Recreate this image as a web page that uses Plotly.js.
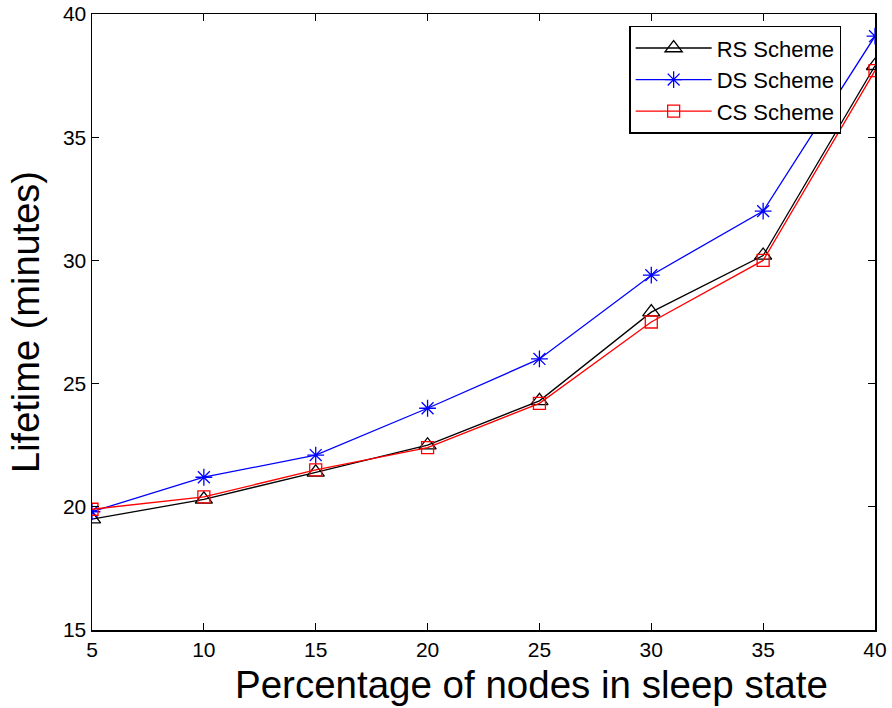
<!DOCTYPE html>
<html>
<head>
<meta charset="utf-8">
<script src="https://cdn.plot.ly/plotly-3.0.1.min.js"></script>
<style>html,body{margin:0;padding:0;background:#fff;}#chart{width:892px;height:708px;}</style>
</head>
<body>
<div id="chart"></div>
<script>
// Percentage of sleeping nodes and network lifetime for each scheme
const sleepPct = [5, 10, 15, 20, 25, 30, 35, 40];
const rsLifetime = [19.5, 20.3, 21.4, 22.5, 24.3, 27.9, 30.2, 37.9];
const dsLifetime = [19.8, 21.2, 22.1, 24.0, 26.0, 29.4, 32.0, 39.1];
const csLifetime = [19.9, 20.4, 21.5, 22.4, 24.2, 27.5, 30.0, 37.7];
const xTicks = [5, 10, 15, 20, 25, 30, 35, 40];
const yTicks = [15, 20, 25, 30, 35, 40];
const xTitle = 'Percentage of nodes in sleep state';
const yTitle = 'Lifetime (minutes)';

const font = 'Arial, "Liberation Sans", sans-serif';

const traces = [
  {x: sleepPct, y: rsLifetime, name: 'RS Scheme', mode: 'lines+markers',
   line: {color: '#000000', width: 1.3},
   marker: {symbol: 'triangle-up-open', size: 15, color: '#000000', line: {width: 1.3}}},
  {x: sleepPct, y: dsLifetime, name: 'DS Scheme', mode: 'lines+markers',
   line: {color: '#0000ff', width: 1.3},
   marker: {symbol: 'asterisk-open', size: 14, color: '#0000ff', line: {width: 1.3, color: '#0000ff'}}},
  {x: sleepPct, y: csLifetime, name: 'CS Scheme', mode: 'lines+markers',
   line: {color: '#ff0000', width: 1.3},
   marker: {symbol: 'square-open', size: 12, color: '#ff0000', line: {width: 1.3}}}
];

const axisCommon = {
  showline: true, linecolor: '#000', linewidth: 1.5, mirror: 'ticks',
  ticks: 'inside', ticklen: 7, tickwidth: 1, tickcolor: '#000',
  showgrid: false, zeroline: false,
  tickfont: {family: font, size: 21, color: '#000'}
};

const layout = {
  width: 892, height: 708,
  margin: {l: 92, r: 17, t: 14, b: 78},
  paper_bgcolor: '#fff', plot_bgcolor: '#fff',
  showlegend: true,
  xaxis: Object.assign({}, axisCommon, {
    range: [5, 40], tickvals: xTicks, ticktext: xTicks.map(String)
  }),
  yaxis: Object.assign({}, axisCommon, {
    range: [15, 40], tickvals: yTicks, ticktext: yTicks.map(String),
    title: {text: yTitle, font: {family: font, size: 38, color: '#000'}, standoff: 11}
  }),
  annotations: [{
    text: xTitle, xref: 'paper', yref: 'paper', x: 0.561, y: -0.088,
    xanchor: 'center', yanchor: 'middle', showarrow: false,
    font: {family: font, size: 38.5, color: '#000'}
  }],
  legend: {
    x: 0.686, y: 0.981, xanchor: 'left', yanchor: 'top',
    bgcolor: '#fff', bordercolor: '#000', borderwidth: 1.5,
    font: {family: font, size: 22, color: '#000'},
    itemwidth: 76, tracegroupgap: 0
  }
};

Plotly.newPlot('chart', traces, layout, {displayModeBar: false, staticPlot: true});
</script>
</body>
</html>
